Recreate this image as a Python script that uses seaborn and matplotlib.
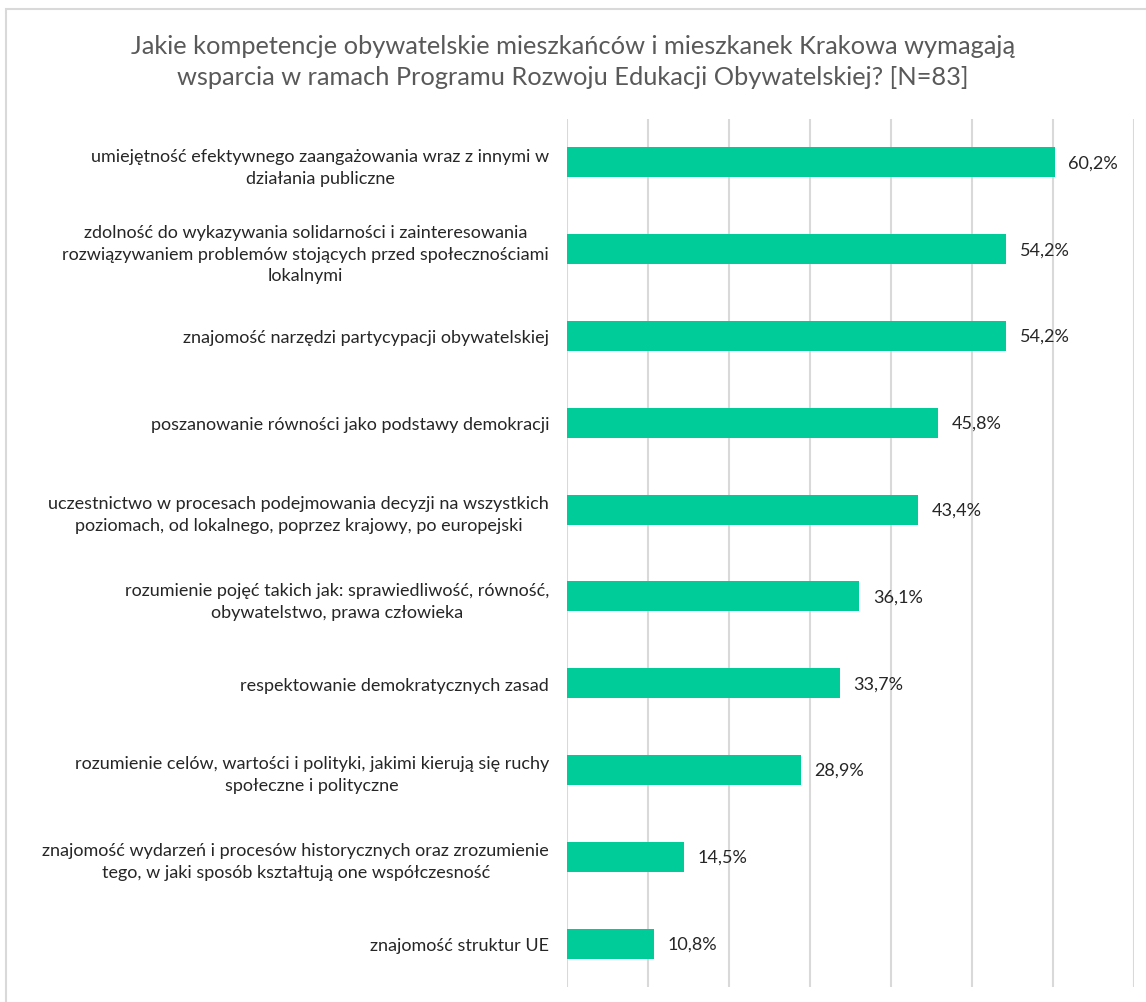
import matplotlib
matplotlib.use("Agg")
import matplotlib.pyplot as plt
import matplotlib.patches as mpatches
import seaborn as sns
import pandas as pd

categories = [
    "umiejętność efektywnego zaangażowania wraz z innymi w\ndziałania publiczne",
    "zdolność do wykazywania solidarności i zainteresowania\nrozwiązywaniem problemów stojących przed społecznościami\nlokalnymi",
    "znajomość narzędzi partycypacji obywatelskiej",
    "poszanowanie równości jako podstawy demokracji",
    "uczestnictwo w procesach podejmowania decyzji na wszystkich\npoziomach, od lokalnego, poprzez krajowy, po europejski",
    "rozumienie pojęć takich jak: sprawiedliwość, równość,\nobywatelstwo, prawa człowieka",
    "respektowanie demokratycznych zasad",
    "rozumienie celów, wartości i polityki, jakimi kierują się ruchy\nspołeczne i polityczne",
    "znajomość wydarzeń i procesów historycznych oraz zrozumienie\ntego, w jaki sposób kształtują one współczesność",
    "znajomość struktur UE",
]
values = [60.2, 54.2, 54.2, 45.8, 43.4, 36.1, 33.7, 28.9, 14.5, 10.8]
value_labels = ["60,2%", "54,2%", "54,2%", "45,8%", "43,4%", "36,1%", "33,7%", "28,9%", "14,5%", "10,8%"]
title_lines = [
    "Jakie kompetencje obywatelskie mieszkańców i mieszkanek Krakowa wymagają",
    "wsparcia w ramach Programu Rozwoju Edukacji Obywatelskiej? [N=83]",
]

sns.set_style("white")
plt.rcParams["font.family"] = ["Lato", "DejaVu Sans"]

W, H = 1146, 1003
fig = plt.figure(figsize=(W / 100, H / 100), dpi=100)
ax = fig.add_axes([566.5 / W, (H - 988) / H, (1134 - 566.5) / W, (988 - 120) / H])

df = pd.DataFrame({"cat": categories, "val": values})
sns.barplot(data=df, x="val", y="cat", orient="h", color="#00CC99",
            width=0.345, ax=ax, saturation=1, edgecolor="none")

ax.set_xlim(0, 70)
ax.set_ylim(len(categories) - 0.5, -0.5)
ax.set_xticks(range(0, 71, 10))
ax.xaxis.grid(True, color="#D9D9D9", linewidth=1.5)
ax.set_axisbelow(True)
ax.tick_params(axis="x", bottom=False, labelbottom=False)
ax.tick_params(axis="y", left=False, pad=9, labelsize=13.0, labelcolor="#262626")
for s in ax.spines.values():
    s.set_visible(False)
ax.set_xlabel("")
ax.set_ylabel("")
for lbl in ax.get_yticklabels():
    lbl.set_multialignment("center")
    lbl.set_linespacing(1.45)

ax.bar_label(ax.containers[0], labels=value_labels, padding=10,
             fontsize=13, color="#262626")

fig.text(573 / W, 1 - 47 / H, title_lines[0], ha="center", va="center",
         fontsize=18.3, color="#595959")
fig.text(573 / W, 1 - 78 / H, title_lines[1], ha="center", va="center",
         fontsize=18.3, color="#595959")

border = mpatches.Rectangle((6 / W, -0.05), 1.2, 1.05 - 9.5 / H,
                            transform=fig.transFigure, fill=False,
                            edgecolor="#D9D9D9", linewidth=1.5, clip_on=False)
fig.patches.append(border)

fig.savefig("out.png", dpi=100)
